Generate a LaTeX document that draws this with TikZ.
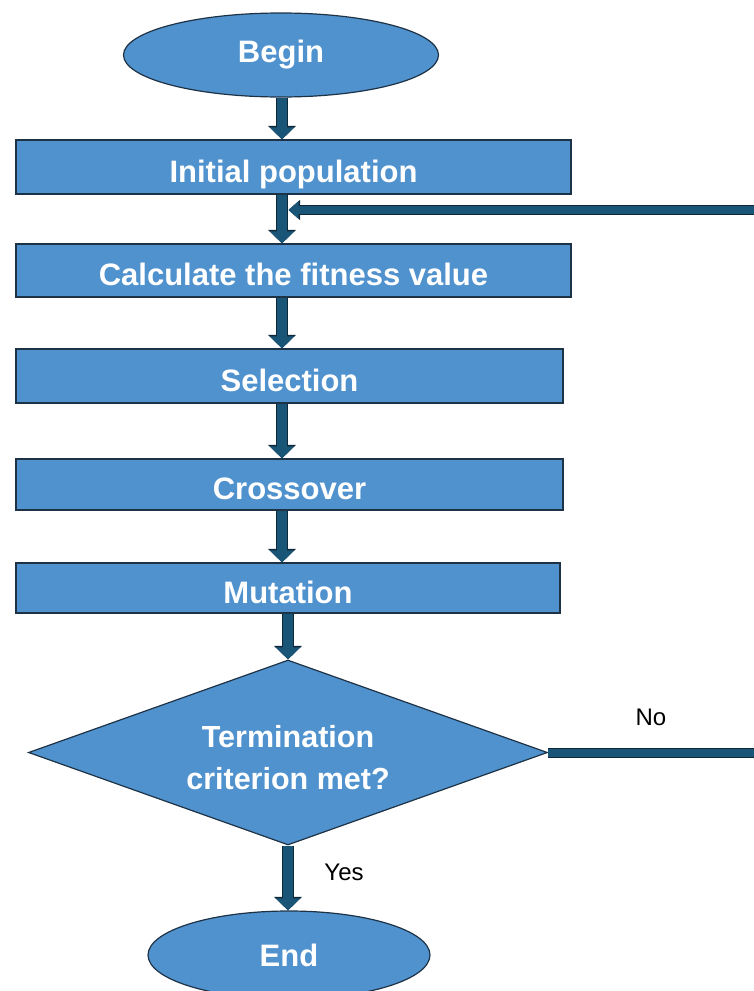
\documentclass[tikz,border=0pt]{standalone}
\usepackage{fontspec}
\setmainfont{Liberation Sans}
\usetikzlibrary{shapes.geometric,arrows.meta,calc}
\definecolor{boxfill}{RGB}{80,146,206}
\definecolor{boxline}{RGB}{30,50,70}
\definecolor{arrfill}{RGB}{25,85,118}
\definecolor{arrline}{RGB}{14,40,58}
\tikzset{
  box/.style={rectangle, draw=boxline, line width=1.2pt, fill=boxfill, inner sep=0pt,
    text=white, font=\bfseries\fontsize{31}{40}\selectfont, text height=30pt, text depth=0pt},
  oval/.style={ellipse, draw=boxline, line width=1.2pt, fill=boxfill, inner sep=0pt,
    text=white, font=\bfseries\fontsize{31}{40}\selectfont},
  decide/.style={diamond, shape aspect=2.8, draw=boxline, line width=1.2pt, fill=boxfill, inner sep=0pt,
    text=white, font=\bfseries\fontsize{30.5}{40}\selectfont, align=center},
  arr/.style={line width=10pt, draw=arrfill, -{Triangle[width=24pt,length=12pt]},
    preaction={draw=arrline, line width=12.5pt, -{Triangle[width=27pt,length=13.5pt]}}},
  back/.style={line width=8pt, draw=arrfill, -{Triangle[width=17pt,length=10pt]},
    preaction={draw=arrline, line width=10pt, -{Triangle[width=19.5pt,length=11.5pt]}}},
  lbl/.style={font=\fontsize{24}{28}\selectfont, text=black}
}
\begin{document}
\begin{tikzpicture}[x=1pt,y=-1pt]
\useasboundingbox (0,0) rectangle (754,991);
\clip (0,0) rectangle (754,991);
\node[oval, minimum width=315pt, minimum height=84pt] (begin) at (281,55) {Begin};
\node[box, minimum width=555pt, minimum height=54pt] (init) at (293.5,167) {Initial population};
\node[box, minimum width=555pt, minimum height=53pt] (calc) at (293.5,270.5) {Calculate the fitness value};
\node[box, minimum width=547pt, minimum height=54pt] (sel) at (289.5,376) {Selection};
\node[box, minimum width=547pt, minimum height=51pt] (cross) at (289.5,484.5) {Crossover};
\node[box, minimum width=544pt, minimum height=50pt] (mut) at (288,588) {Mutation};
\node[decide, minimum width=519pt, minimum height=185pt] (dia) at (288,752.5) {\rule{0pt}{33pt}Termination\\[2pt]criterion met?};
\node[oval, minimum width=282pt, minimum height=88pt] (end) at (289,955) {End};
\node[lbl] (no) at (651,717) {No};
\node[lbl] (yes) at (344,872) {Yes};
\coordinate (fb) at (288.5,210);
\coordinate (loop) at (775,752.5);
\draw[arr] (begin.south -| 282,0) -- (init.north -| 282,0);
\draw[arr] (init.south -| 282,0) -- (calc.north -| 282,0);
\draw[arr] (calc.south -| 282,0) -- (sel.north -| 282,0);
\draw[arr] (sel.south -| 282,0) -- (cross.north -| 282,0);
\draw[arr] (cross.south -| 282,0) -- (mut.north -| 282,0);
\draw[arr] (mut.south -| dia.north) -- (dia.north);
\draw[arr] (dia.south) -- (end.north -| dia.south);
\draw[back] (dia.east) -- (loop) |- (fb);
\end{tikzpicture}
\end{document}
